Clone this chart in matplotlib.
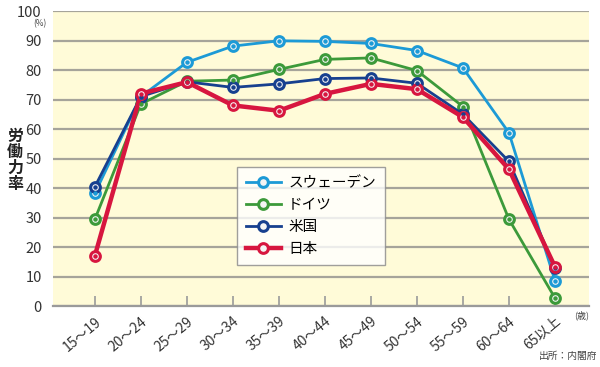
import matplotlib
matplotlib.use("Agg")
import matplotlib.pyplot as plt

plt.rcParams["font.family"] = ["Noto Sans CJK JP", "DejaVu Sans"]

# 年齢階級
ages = ["15〜19", "20〜24", "25〜29", "30〜34", "35〜39", "40〜44",
        "45〜49", "50〜54", "55〜59", "60〜64", "65以上"]

# 労働力率(%)
sweden = [38.2, 71.0, 82.6, 88.1, 89.9, 89.7, 89.0, 86.6, 80.7, 58.7, 8.6]
germany = [29.4, 68.5, 76.2, 76.6, 80.2, 83.6, 84.1, 79.8, 67.6, 29.4, 2.7]
usa = [40.4, 71.0, 76.0, 74.1, 75.3, 77.1, 77.3, 75.5, 65.0, 49.0, 13.0]
japan = [17.0, 72.0, 75.9, 68.0, 66.2, 71.9, 75.3, 73.5, 64.0, 46.3, 13.3]

series = [
    ("スウェーデン", sweden, "#1c9ad6", 2.0),
    ("ドイツ", germany, "#3c9a3a", 2.0),
    ("米国", usa, "#17408f", 2.0),
    ("日本", japan, "#d7163f", 3.2),
]

fig = plt.figure(figsize=(6, 3.67), dpi=100)
ax = fig.add_axes([0.0883, 0.1662, 0.8934, 0.8038])
ax.set_facecolor("#fffbd8")

x = list(range(len(ages)))
for name, vals, color, lw in series:
    ax.plot(x, vals, color=color, lw=lw, marker="o", markersize=7,
            markerfacecolor="#f4f4f4", markeredgecolor=color,
            markeredgewidth=2.2, label=name, zorder=3)
    ax.plot(x, vals, ls="none", marker="o", markersize=2.2, color=color,
            zorder=4)

ax.set_xlim(-0.91, 10.74)
ax.set_ylim(0, 100)
ax.set_yticks(range(0, 101, 10))
ax.yaxis.grid(True, color="#a6a49a", lw=1.6)
ax.set_axisbelow(True)
for s in ["left", "right", "top"]:
    ax.spines[s].set_visible(False)
ax.spines["bottom"].set_color("#9a9a9a")
ax.spines["bottom"].set_linewidth(1.6)

ax.set_xticks(x)
ax.set_xticklabels(ages, rotation=40, ha="right", va="top",
                   rotation_mode="anchor", fontsize=10, color="#333333")
ax.tick_params(axis="x", direction="in", length=7, width=1.2,
               color="#9a9a9a", pad=6)
ax.tick_params(axis="y", length=0, labelsize=10.5, labelcolor="#333333", pad=8)

fig.text(0.025, 0.565, "労\n働\n力\n率", fontsize=11.5, fontweight="bold",
         ha="center", va="center", linespacing=1.0, color="#222222")
fig.text(0.067, 0.935, "(%)", fontsize=6, ha="center", va="center",
         color="#444444")
fig.text(0.97, 0.142, "(歳)", fontsize=6.5, ha="center", va="center",
         color="#444444")
fig.text(0.995, 0.03, "出所：内閣府", fontsize=7, ha="right", va="center",
         color="#444444")

leg = ax.legend(loc="upper left", bbox_to_anchor=(0.33, 0.495),
                fontsize=10.5, frameon=True, fancybox=False,
                handlelength=2.4, handletextpad=0.5, borderpad=0.6,
                borderaxespad=0.5, labelspacing=0.55, edgecolor="#888888")
leg.get_frame().set_linewidth(1.0)

fig.savefig("out.png", dpi=100)
